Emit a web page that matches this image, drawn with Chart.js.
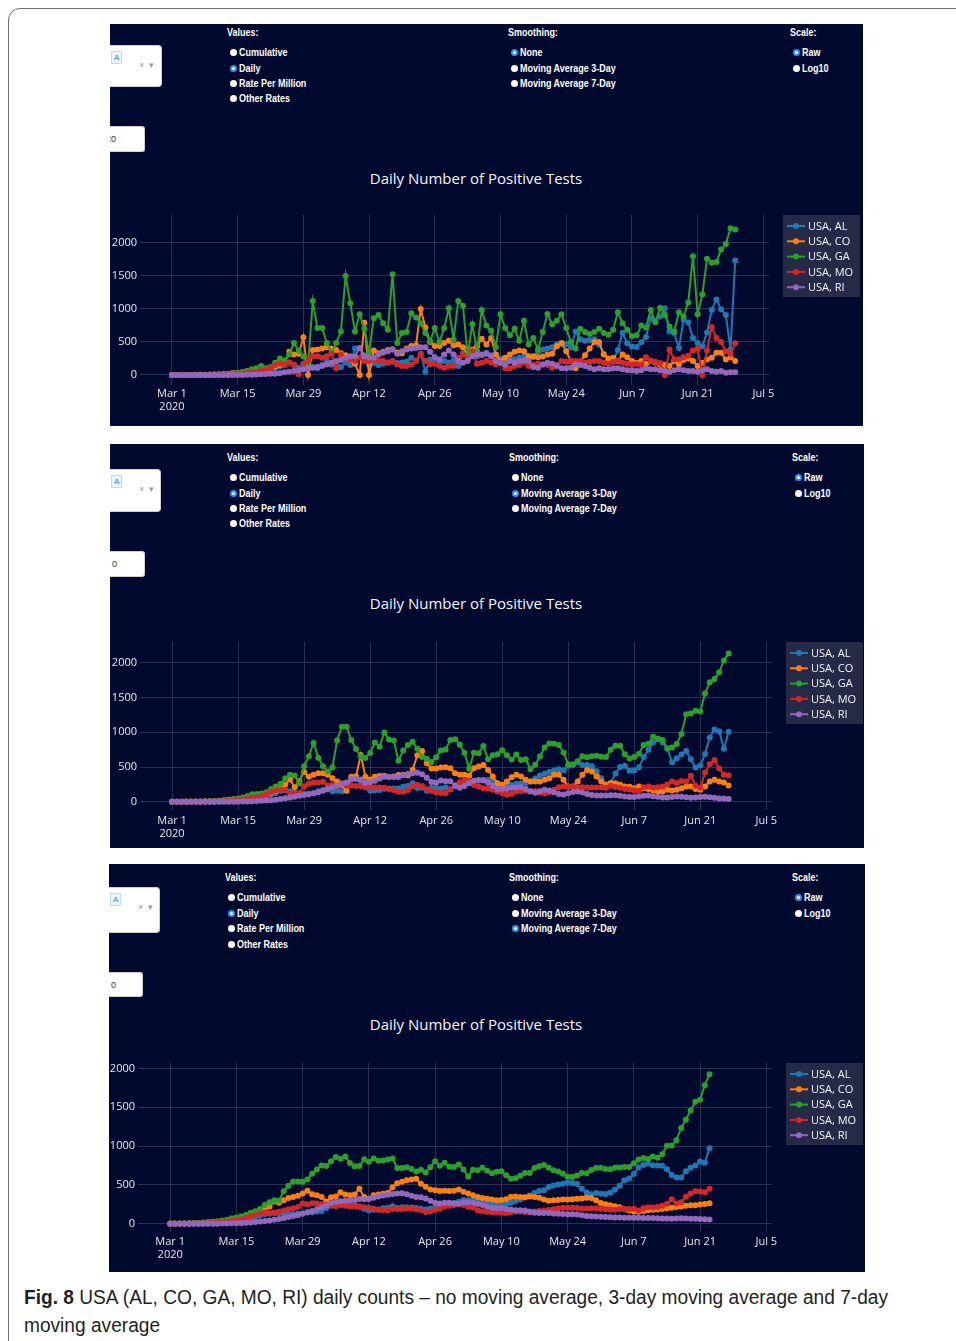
<!DOCTYPE html>
<html>
<head>
<meta charset="utf-8">
<script src="https://cdn.jsdelivr.net/npm/chart.js@4.4.1/dist/chart.umd.min.js"></script>
<style>
  html, body { margin:0; padding:0; width:956px; height:1341px; overflow:hidden; background:#ffffff; }
  body { position:relative; font-family:"Open Sans", sans-serif; }
  .frame { position:absolute; left:8px; top:8px; width:990px; height:1380px; border:1px solid #707070; border-radius:12px; box-sizing:border-box; }
  .panel { position:absolute; background:#02092e; overflow:hidden; }
  .ui { position:absolute; color:#ffffff; font-family:"Liberation Sans",Arial,sans-serif; font-size:10.5px; font-weight:bold; line-height:12px; white-space:nowrap; transform:scaleX(0.855); transform-origin:0 50%; }
  .radio { position:absolute; width:7px; height:7px; border-radius:50%; background:#ffffff; box-sizing:border-box; }
  .radio.on { border:2px solid #2f8fff; background:#ffffff; }
  .dd { position:absolute; background:#ffffff; border:1px solid #cfcfcf; border-left:none; border-radius:0 4px 4px 0; box-sizing:border-box; }
  .tag { position:absolute; background:#e9f4ff; border:1px solid #bcdcff; color:#2a86e0; font:8px Arial,sans-serif; line-height:11px; padding:0 2px; }
  .ddx { position:absolute; color:#9a9a9a; font:9px Arial,sans-serif; }
  .inp { position:absolute; background:#ffffff; border:1px solid #cfcfcf; border-left:none; border-radius:0 3px 3px 0; box-sizing:border-box; color:#333; font:9px Arial,sans-serif; }
  .title { position:absolute; width:400px; text-align:center; color:#f2f5fa; font-family:"Open Sans",sans-serif; font-size:15px; line-height:18px; white-space:nowrap; }
  canvas { position:absolute; }
  .cap { position:absolute; left:24px; font-family:"Liberation Sans",Arial,sans-serif; font-size:20px; line-height:28px; color:#231f20; white-space:nowrap; transform-origin:0 50%; }
</style>
</head>
<body>
<div class="frame"></div>
<div class="cap" id="cap1" style="top:1283px"><b>Fig. 8</b> USA (AL, CO, GA, MO, RI) daily counts – no moving average, 3-day moving average and 7-day</div>
<div class="cap" id="cap2" style="top:1311px">moving average</div>
<script>
// ---------- data ----------
const seriesNames = ["USA, AL", "USA, CO", "USA, GA", "USA, MO", "USA, RI"];
const seriesColors = ["#1f77b4", "#ff7f0e", "#2ca02c", "#d62728", "#9467bd"];
const xTickDays = [0, 14, 28, 42, 56, 70, 84, 98, 112, 126];           // days since Mar 1 2020
const xTickLabels = [["Mar 1", "2020"], "Mar 15", "Mar 29", "Apr 12", "Apr 26", "May 10", "May 24", "Jun 7", "Jun 21", "Jul 5"];
const yTickValues = [0, 500, 1000, 1500, 2000];
const chartTitle = "Daily Number of Positive Tests";
const valueOptions = ["Cumulative", "Daily", "Rate Per Million", "Other Rates"];
const smoothOptions = ["None", "Moving Average 3-Day", "Moving Average 7-Day"];
const scaleOptions = ["Raw", "Log10"];

// Panel 1: raw daily values (Mar 1 .. Jun 29)
const rawAL = [0,0,0,0,0,0,0,0,0,0, 0,0,0,5,6,10,15,30,40,50, 60,80,100,130,150,190,150,110,120,90,
 120,100,150,200,160,180,120,190,150,400, 410,300,150,180,150,170,190,200,180,190, 200,260,220,320,50,230,190,180,210,185,
 220,135,330,280,310,285,300,335,300,310, 250,220,230,240,260,280,260,270,350,385, 400,420,460,470,470,420,660,540,520,530,
 540,460,320,230,200,380,640,480,430,425, 495,575,860,810,885,1010,660,635,410,835, 795,560,485,435,645,985,1145,995,910,385,1735];
const rawCO = [0,0,0,0,0,2,3,5,5,8, 10,15,20,30,35,40,55,60,70,95, 90,110,130,150,180,350,310,320,570,0,
 380,385,400,420,400,380,330,300,230,170, 0,790,0,370,330,350,380,390,340,330, 400,440,450,1000,720,500,440,440,485,520,
 450,460,420,310,385,435,550,460,560,310, 210,260,310,350,370,360,285,285,270,280, 310,320,435,485,360,210,100,200,300,400,
 500,500,310,250,260,210,310,270,210,185, 210,170,210,190,160,150,135,210,160,225, 250,210,135,185,235,260,335,335,235,270,210];
const rawGA = [0,0,2,0,0,0,2,4,6,8, 10,12,15,25,30,40,60,85,100,135, 100,120,185,250,220,310,485,370,280,140,
 1120,710,710,485,335,485,660,1500,1085,660, 920,700,335,860,910,785,685,1525,485,635, 650,935,870,785,635,510,710,500,710,1010,
 535,1120,1050,300,770,360,985,750,670,420, 920,710,600,700,520,820,460,560,385,650, 925,770,820,920,710,500,400,700,650,620,
 650,700,635,610,685,950,785,685,585,600, 750,720,985,800,1020,910,735,660,950,885, 1100,1800,920,1220,1760,1700,1710,1900,1985,2225,2205];
const rawMO = [0,0,0,0,0,0,0,0,0,0, 2,5,8,10,15,20,30,50,40,80, 70,100,150,175,160,185,160,10,170,210,
 285,285,260,285,320,100,310,250,235,210, 260,210,210,230,220,210,185,210,160,135, 135,160,210,310,210,160,170,135,110,135,
 135,260,310,250,360,170,185,210,190,160, 185,100,100,135,150,185,135,150,170,160, 150,110,150,210,200,210,210,210,185,200,
 210,210,185,170,200,220,185,170,160,165, 150,270,210,200,180,0,385,240,240,270, 290,370,400,0,370,725,560,500,360,320,480];
const rawRI = [0,0,0,0,0,0,0,0,0,0, 0,0,0,0,0,0,2,5,8,10, 15,20,20,25,40,50,60,70,85,100,
 110,120,135,160,185,210,230,260,285,285, 410,285,270,260,310,335,360,385,320,360, 385,400,410,420,420,350,270,235,310,370,
 310,210,185,210,285,310,310,320,285,210, 185,160,210,185,210,220,210,120,110,160, 185,170,135,100,100,110,160,150,135,110,
 85,100,85,85,100,100,85,70,70,60, 70,100,85,85,70,60,50,70,85,70, 60,60,50,70,85,60,50,60,35,40,40];

// Panel 2: 3-day moving average (Mar 1 .. Jun 27)
const ma3AL = [0,0,0,0,0,0,0,0,0,0, 0,2,4,7,10,18,28,40,50,63, 80,103,127,157,163,150,127,107,110,103,
 123,150,170,180,153,163,153,247,320,370, 287,210,160,167,170,187,190,190,190,217, 227,267,197,200,157,200,193,192,205,180,
 228,248,307,292,298,307,312,315,287,260, 233,230,243,260,267,270,293,335,378,402, 427,450,467,453,517,540,573,530,530,510,
 440,337,250,270,407,500,517,445,450,498, 643,748,852,902,852,768,568,627,680,730, 613,493,522,688,925,1042,1017,763,1010];
const ma3CO = [0,1,1,2,3,3,4,6,8,11, 15,22,28,35,43,52,62,75,85,98, 110,130,153,190,250,320,210,300,430,360,
 390,410,410,390,340,290,240,160,360,360, 675,360,320,360,370,375,355,365,385,390, 380,460,670,730,555,480,480,495,498,483,
 411,388,390,373,483,507,531,459,364,268, 244,292,354,388,364,316,292,292,292,316, 340,388,388,316,220,220,292,388,459,435,
 364,292,244,268,268,244,220,215,196,220, 196,182,163,148,148,172,163,172,196,220, 220,182,172,220,292,316,292,278,234];
const ma3GA = [1,1,1,0,1,2,4,6,8,10, 12,17,23,32,43,62,82,107,112,118, 135,185,218,260,338,388,378,263,513,657,
 847,635,510,435,493,882,1082,1082,888,760, 652,632,702,852,793,998,898,882,590,740, 818,863,763,643,618,573,640,740,752,888,
 902,823,707,477,705,698,802,613,670,683, 743,670,607,680,600,613,468,532,653,782, 838,837,817,710,537,533,583,657,640,657,
 662,648,643,748,807,807,685,623,645,690, 818,835,935,910,888,768,782,832,978,1262, 1273,1313,1300,1560,1723,1770,1865,2037,2138];
const ma3MO = [0,0,0,0,0,0,0,0,1,2, 5,8,11,15,22,33,40,57,63,83, 107,142,162,173,168,118,113,130,222,260,
 277,277,288,235,243,220,265,232,235,227, 227,217,220,205,205,202,185,168,143,143, 168,227,243,227,180,155,138,127,127,177,
 235,280,315,290,240,220,196,190,172,148, 124,100,115,148,155,157,152,155,134,124, 140,172,210,220,215,215,210,210,205,205,
 205,210,200,230,212,200,182,175,165,160, 210,220,200,210,220,250,290,270,300,290, 375,230,200,420,540,600,480,390,380];
const ma3RI = [0,0,0,0,0,0,0,0,0,0, 0,0,0,0,0,2,5,8,11,15, 18,22,28,38,50,60,72,85,98,110,
 122,138,160,185,208,233,258,277,327,327, 322,272,280,302,335,360,355,355,355,382, 398,410,417,397,347,285,272,305,297,297,
 235,202,227,268,302,313,305,272,227,185, 185,185,202,205,213,183,147,130,152,172, 163,135,112,103,123,140,148,132,110,98,
 90,90,90,95,95,85,75,67,67,77, 85,90,80,72,60,60,68,75,72,63, 57,60,68,72,65,57,48,45,38];

// Panel 3: 7-day moving average (Mar 1 .. Jun 23)
const ma7AL = [0,0,0,0,0,0,0,1,2,3, 5,9,15,22,30,41,54,70,87,109, 123,130,136,134,133,126,120,127,134,143,
 147,157,164,200,230,250,246,254,249,251, 221,191,174,180,183,199,206,224,203,210, 210,207,200,195,181,193,207,220,239,249,
 266,282,306,303,299,286,278,269,259,256, 249,251,270,292,315,338,364,394,422,432, 471,491,506,516,526,524,510,449,400,380,
 396,387,383,398,436,489,558,582,640,723, 756,776,753,749,747,701,626,594,595,677, 721,750,800,786,971];
const ma7CO = [1,1,2,3,5,7,9,13,17,23, 29,36,45,55,64,77,88,101,118,145, 189,221,287,270,301,331,345,360,390,425,
 380,365,345,285,340,350,405,375,365,375, 450,345,320,365,375,385,395,470,520,540, 560,570,580,515,475,440,430,420,425,420,
 425,440,410,390,365,345,330,320,310,300, 305,315,345,350,345,340,350,345,335,310, 295,300,305,310,310,315,320,325,335,330,
 300,265,250,238,225,210,185,168,155,152, 162,172,180,182,190,198,205,213,222,230, 236,238,248,252,262];
const ma7GA = [1,1,2,3,4,6,8,11,15,20, 27,38,51,68,79,91,112,139,159,189, 239,277,300,294,418,488,545,545,540,569,
 644,698,751,744,806,859,837,866,781,739, 742,829,798,841,811,814,826,841,716,717, 728,706,674,694,659,728,805,746,785,735,
 731,762,698,608,696,688,722,681,649,670, 676,624,578,585,617,653,653,719,740,756, 721,689,671,643,604,603,622,652,650,693,
 716,721,705,700,720,725,730,732,780,826, 846,833,866,851,894,1006,1007,1076,1234,1341, 1459,1573,1599,1786,1926];
const ma7MO = [0,0,0,0,0,1,2,4,6,9, 13,20,25,35,44,56,74,95,111,131, 143,134,144,153,169,186,197,215,259,249,
 264,259,251,244,241,225,241,229,225,221, 218,211,204,193,179,171,171,189,189,189, 194,194,186,176,151,158,179,191,223,231,
 239,249,239,218,209,171,161,154,146,145, 141,136,146,155,157,151,146,157,164,170, 177,186,196,204,204,205,201,196,194,199,
 197,191,184,181,179,189,187,189,191,168, 199,212,208,216,229,256,314,259,277,346, 388,418,416,405,450];
const ma7RI = [0,0,0,0,0,0,0,0,0,0, 0,1,2,4,6,9,11,15,20,26, 33,41,50,61,74,85,97,111,128,146,
 164,186,209,231,266,281,289,294,301,308, 319,315,320,333,351,364,374,383,388,392, 379,358,345,339,324,294,270,261,269,269,
 260,261,272,276,272,254,240,222,206,197, 197,188,181,174,174,168,156,140,137,137, 137,132,127,124,121,121,118,107,100,95,
 91,89,85,81,79,79,77,77,77,76, 74,74,72,70,66,65,64,66,69,65, 62,62,59,57,53];

// ---------- styling / layout ----------
const xMin = -6.8, xMax = 127.2;
const tickColor = "#e6e8ef";
const gridColor = "#283150";
const legendBg = "#252b46";

const panels = [
  { box:[110,24,753,402], dd:[0,21,52,42], inp:[0,102,35,26], inpText:"20", inpShift:-4,
    labelY:32, rowY:[52,68,83,98], gx:[227,508,790], selSmooth:0, titleY:178,
    canvas:[110,200,753,225], area:{left:140,top:215,right:769,bottom:385}, yRange:[-152,2424], xPad:2,
    series:[rawAL,rawCO,rawGA,rawMO,rawRI] },
  { box:[110,444,754,404], dd:[0,25,51,43], inp:[0,107,35,26], inpText:"0", inpShift:2,
    labelY:457, rowY:[477,493,508,523], gx:[227,509,792], selSmooth:1, titleY:603,
    canvas:[110,627,754,220], area:{left:140,top:642,right:772,bottom:810}, yRange:[-119,2302], xPad:4,
    series:[ma3AL,ma3CO,ma3GA,ma3MO,ma3RI] },
  { box:[109,864,756,408], dd:[0,23,51,46], inp:[0,108,34,25], inpText:"0", inpShift:2,
    labelY:877, rowY:[897,913,928,944], gx:[225,509,792], selSmooth:2, titleY:1024,
    canvas:[109,1048,756,223], area:{left:138,top:1063,right:772,bottom:1232}, yRange:[-108,2072], xPad:3,
    series:[ma7AL,ma7CO,ma7GA,ma7MO,ma7RI] }
];

function el(cls, parent, x, y, w, h, text) {
  const d = document.createElement('div');
  d.className = cls;
  d.style.left = x + 'px'; d.style.top = y + 'px';
  if (w != null) d.style.width = w + 'px';
  if (h != null) d.style.height = h + 'px';
  if (text != null) d.textContent = text;
  parent.appendChild(d);
  return d;
}

function radioGroup(x, labelY, rowY, label, options, sel) {
  el('ui', document.body, x, labelY - 6, null, null, label);
  options.forEach((o, i) => {
    el('radio' + (i === sel ? ' on' : ''), document.body, x + 3, rowY[i] - 3.5, null, null);
    el('ui', document.body, x + 12, rowY[i] - 6, null, null, o);
  });
}

const legendPlugin = {
  id: 'boxLegend',
  afterDraw(chart) {
    const { ctx, chartArea } = chart;
    const x0 = chartArea.right + 14, y0 = chartArea.top;
    ctx.save();
    ctx.fillStyle = legendBg;
    ctx.fillRect(x0, y0, 77, 82);
    chart.data.datasets.forEach((ds, i) => {
      const y = y0 + 11 + i * 15.3;
      ctx.strokeStyle = ds.borderColor; ctx.lineWidth = 2;
      ctx.beginPath(); ctx.moveTo(x0 + 4, y); ctx.lineTo(x0 + 22, y); ctx.stroke();
      ctx.fillStyle = ds.borderColor;
      ctx.beginPath(); ctx.arc(x0 + 13, y, 3, 0, Math.PI * 2); ctx.fill();
      ctx.fillStyle = '#f2f5fa';
      ctx.font = '11px "Open Sans"';
      ctx.textBaseline = 'middle';
      ctx.fillText(ds.label, x0 + 25, y + 0.5);
    });
    ctx.restore();
  }
};

function buildPanel(p) {
  const panel = el('panel', document.body, p.box[0], p.box[1], p.box[2], p.box[3]);
  const dd = el('dd', panel, p.dd[0], p.dd[1], p.dd[2], p.dd[3]);
  el('tag', dd, 1, 5, null, null, 'A');
  el('ddx', dd, 29, 14, null, null, '×');
  el('ddx', dd, 39, 14, null, null, '▾');
  const inp = el('inp', panel, p.inp[0], p.inp[1], p.inp[2], p.inp[3]);
  const t = el('ddx', inp, p.inpShift, 7, null, null, p.inpText);
  t.style.color = '#333';

  radioGroup(p.gx[0], p.labelY, p.rowY, 'Values:', valueOptions, 1);
  radioGroup(p.gx[1], p.labelY, p.rowY, 'Smoothing:', smoothOptions, p.selSmooth);
  radioGroup(p.gx[2], p.labelY, p.rowY, 'Scale:', scaleOptions, 0);

  el('title', document.body, 476 - 200, p.titleY - 9, null, null, chartTitle);

  const cv = p.canvas, a = p.area;
  const c = document.createElement('canvas');
  c.width = cv[2]; c.height = cv[3];
  c.style.left = cv[0] + 'px'; c.style.top = cv[1] + 'px';
  c.style.width = cv[2] + 'px'; c.style.height = cv[3] + 'px';
  document.body.appendChild(c);

  const datasets = seriesNames.map((name, i) => ({
    label: name,
    data: p.series[i].map((v, d) => ({ x: d, y: v })),
    borderColor: seriesColors[i],
    backgroundColor: seriesColors[i],
    pointBackgroundColor: seriesColors[i],
    pointBorderColor: seriesColors[i],
    borderWidth: 2, pointRadius: 3, pointBorderWidth: 0, pointHoverRadius: 3,
    tension: 0, fill: false, order: seriesNames.length - i
  }));

  new Chart(c, {
    type: 'line',
    data: { datasets },
    options: {
      responsive: false, animation: false, devicePixelRatio: 1,
      layout: { padding: { left: 0, top: a.top - cv[1], right: (cv[0] + cv[2]) - a.right, bottom: 0 } },
      plugins: { legend: { display: false }, tooltip: { enabled: false }, title: { display: false } },
      scales: {
        x: {
          type: 'linear', min: xMin, max: xMax,
          afterBuildTicks: s => { s.ticks = xTickDays.map(v => ({ value: v })); },
          afterFit: s => { s.height = (cv[1] + cv[3]) - a.bottom; },
          ticks: { autoSkip: false, maxRotation: 0, padding: p.xPad, color: tickColor,
                   font: { family: 'Open Sans', size: 11 },
                   callback: v => xTickLabels[xTickDays.indexOf(v)] },
          grid: { color: gridColor, drawTicks: false, lineWidth: 1 },
          border: { display: false }
        },
        y: {
          type: 'linear', min: p.yRange[0], max: p.yRange[1],
          afterBuildTicks: s => { s.ticks = yTickValues.map(v => ({ value: v })); },
          afterFit: s => { s.width = a.left - cv[0]; },
          ticks: { padding: 3, color: tickColor, font: { family: 'Open Sans', size: 11 }, callback: v => String(v) },
          grid: { color: gridColor, drawTicks: false, lineWidth: 1 },
          border: { display: false }
        }
      }
    },
    plugins: [legendPlugin]
  });
}

panels.forEach(buildPanel);

// fit caption line 1 to the reference width (x 24 .. 888)
(function () {
  const c1 = document.getElementById('cap1'), c2 = document.getElementById('cap2');
  const w = c1.getBoundingClientRect().width;
  const s = 864 / w;
  c1.style.transform = 'scaleX(' + s + ')';
  c2.style.transform = 'scaleX(' + s + ')';
})();
</script>
</body>
</html>
